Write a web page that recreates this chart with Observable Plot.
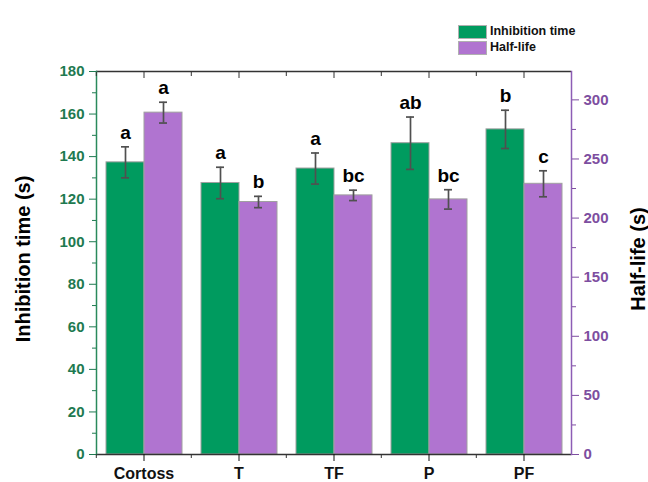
<!DOCTYPE html>
<html><head><meta charset="utf-8">
<script src="https://cdn.jsdelivr.net/npm/d3@7"></script>
<script src="https://cdn.jsdelivr.net/npm/@observablehq/plot@0.6"></script>
<style>
body{margin:0;background:#fff;font-family:"Liberation Sans",Arial,sans-serif;}
#wrap{position:relative;width:648px;height:482px;background:#fff;}
#legend{position:relative;height:58px;}
.sw{position:absolute;left:458px;width:29px;height:14px;border:1px solid #b0b0b0;box-sizing:border-box;}
.lt{position:absolute;left:490px;font-weight:bold;font-size:12.5px;line-height:14px;color:#111;}
svg{display:block;}
</style></head>
<body><div id="wrap"><div id="legend"></div><div id="chart"></div></div>
<script>
// ---- data ----
const categories = ["Cortoss", "T", "TF", "P", "PF"];
const series = ["Inhibition time", "Half-life"];
const inhibition = [137.3, 127.6, 134.4, 146.3, 152.8];
const inhibitionErr = [7.3, 7.4, 7.3, 12.3, 9.0];
const halfLife = [289.2, 213.6, 219.2, 215.8, 229.0];
const halfLifeErr = [8.8, 4.8, 4.4, 8.2, 11.0];
const inhibitionLetters = ["a", "a", "a", "ab", "b"];
const halfLifeLetters = ["a", "b", "bc", "bc", "c"];
const leftTicks = [0, 20, 40, 60, 80, 100, 120, 140, 160, 180];
const leftMinorTicks = [10, 30, 50, 70, 90, 110, 130, 150, 170];
const rightTicks = [0, 50, 100, 150, 200, 250, 300];
const rightMinorTicks = [25, 75, 125, 175, 225, 275];
const leftTitle = "Inhibition time (s)";
const rightTitle = "Half-life (s)";
const ratio = 1.8; // right axis = left axis * 1.8

const green = "#009B5F", purple = "#B074D0";
const greenText = "#1E7A50", purpleText = "#7D4EA0";
const greenAxis = "#2A8A5C", purpleAxis = "#8D5DB5";

// legend
const legend = document.getElementById("legend");
series.forEach((s, i) => {
  const sw = document.createElement("div");
  sw.className = "sw"; sw.style.top = (25 + i * 16) + "px";
  sw.style.background = i === 0 ? green : purple;
  legend.appendChild(sw);
  const t = document.createElement("div");
  t.className = "lt"; t.style.top = (24 + i * 16) + "px"; t.textContent = s;
  legend.appendChild(t);
});

const rows = [];
categories.forEach((c, i) => {
  rows.push({cat: c, series: series[0], v: inhibition[i],
    lo: inhibition[i] - inhibitionErr[i], hi: inhibition[i] + inhibitionErr[i], letter: inhibitionLetters[i]});
  rows.push({cat: c, series: series[1], v: halfLife[i] / ratio,
    lo: (halfLife[i] - halfLifeErr[i]) / ratio, hi: (halfLife[i] + halfLifeErr[i]) / ratio, letter: halfLifeLetters[i]});
});

const half = (648 - 95 - 76) / categories.length / 2;

const chart = Plot.plot({
  width: 648, height: 424,
  marginLeft: 95, marginRight: 76, marginTop: 13, marginBottom: 28,
  style: {fontFamily: "'Liberation Sans', Arial, sans-serif", background: "#fff", overflow: "visible"},
  fx: {domain: categories, padding: 0},
  x: {domain: series, paddingInner: 0, paddingOuter: 0.25, axis: null},
  y: {domain: [0, 180]},
  color: {domain: series, range: [green, purple]},
  marks: [
    Plot.barY(rows, {fx: "cat", x: "series", y: "v", fill: "series", stroke: "#a0a0a0", strokeWidth: 1}),
    Plot.ruleX(rows, {fx: "cat", x: "series", y1: "lo", y2: "hi", stroke: "#505050", strokeWidth: 1.7}),
    Plot.tickY(rows, {fx: "cat", x: "series", y: "lo", stroke: "#505050", strokeWidth: 1.7, inset: 15}),
    Plot.tickY(rows, {fx: "cat", x: "series", y: "hi", stroke: "#505050", strokeWidth: 1.7, inset: 15}),
    Plot.text(rows, {fx: "cat", x: "series", y: "hi", text: "letter", lineAnchor: "bottom", dy: -8,
      fontSize: 19, fontWeight: "bold", fill: "#000"}),
    Plot.ruleY([0], {stroke: "#333", strokeWidth: 1.3}),
    Plot.ruleY([180], {stroke: "#333", strokeWidth: 1.3}),
    Plot.frame({anchor: "left", stroke: greenAxis, strokeWidth: 1.5, facetAnchor: "left"}),
    Plot.frame({anchor: "right", stroke: purpleAxis, strokeWidth: 1.5, facetAnchor: "right"}),
    Plot.axisY({anchor: "left", ticks: leftTicks, tickSize: 7, tickPadding: 5, color: greenText,
      fontSize: 15, fontWeight: "bold", label: null}),
    Plot.axisY({anchor: "left", ticks: leftMinorTicks, tickSize: 4, tickFormat: () => "", color: greenText, label: null}),
    Plot.axisY({anchor: "right", ticks: rightTicks.map(v => v / ratio), tickFormat: d => String(Math.round(d * ratio)),
      tickSize: 7, tickPadding: 5, color: purpleText, fontSize: 15, fontWeight: "bold", label: null}),
    Plot.axisY({anchor: "right", ticks: rightMinorTicks.map(v => v / ratio), tickSize: 4, tickFormat: () => "",
      color: purpleText, label: null}),
    Plot.axisFx({anchor: "bottom", tickSize: 7, tickPadding: 6, fontSize: 16, fontWeight: "bold", color: "#111", label: null}),
    Plot.axisFx({anchor: "bottom", tickSize: 4, tickFormat: () => "", dx: -half, color: "#333", label: null}),
    Plot.axisFx({anchor: "top", tickSize: -6, tickFormat: () => "", color: "#333", label: null}),
    Plot.axisFx({anchor: "top", tickSize: -4, tickFormat: () => "", dx: -half, color: "#333", label: null}),
    Plot.text([leftTitle], {text: d => d, frameAnchor: "left", textAnchor: "middle", rotate: -90, dx: -73, dy: -4,
      fontSize: 20, fontWeight: "bold", fill: "#000", facetAnchor: "left"}),
    Plot.text([rightTitle], {text: d => d, frameAnchor: "right", textAnchor: "middle", rotate: -90, dx: 67, dy: -4,
      fontSize: 20, fontWeight: "bold", fill: "#000", facetAnchor: "right"})
  ]
});
document.getElementById("chart").appendChild(chart);
</script>
</body></html>
